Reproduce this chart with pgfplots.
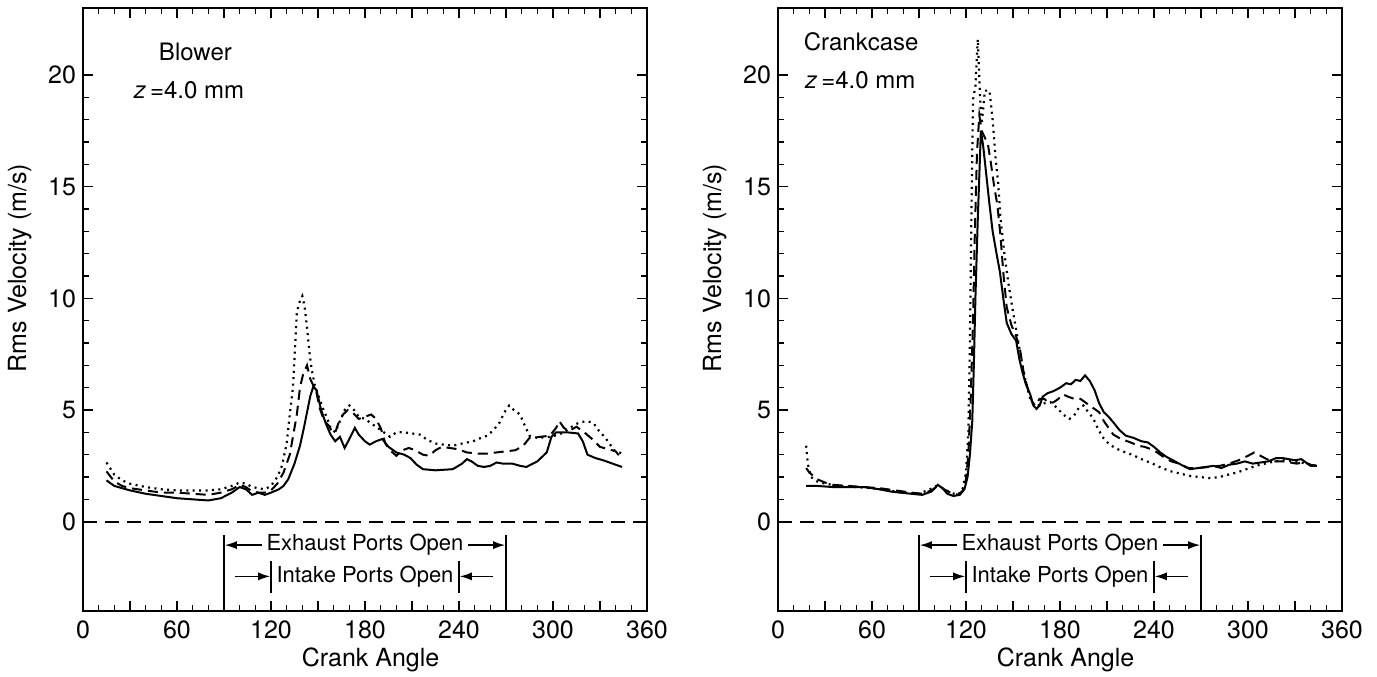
\documentclass[border=0pt]{standalone}
\usepackage{pgfplots}
\pgfplotsset{compat=1.18}
\usepackage{fontspec}
\setmainfont{TeX Gyre Heros}
\usetikzlibrary{arrows.meta}

\pgfplotsset{
  panel/.style={
    width=282pt, height=301.5pt, scale only axis,
    xmin=0, xmax=360, ymin=-4, ymax=23,
    xtick={0,30,...,360},
    xticklabels={0,,60,,120,,180,,240,,300,,360},
    minor x tick num=2,
    ytick={0,5,10,15,20},
    minor y tick num=4,
    tick align=inside,
    major tick length=5pt, minor tick length=3.2pt,
    every tick/.style={line width=0.8pt, black},
    axis line style={line width=1.1pt},
    /pgf/number format/assume math mode=true,
    tick label style={font=\fontsize{12.5}{14}\selectfont},
    label style={font=\fontsize{12.5}{14}\selectfont},
    xlabel={Crank Angle},
    ylabel={Rms Velocity (m/s)},
    xlabel style={at={(axis description cs:0.51,-0.081)}, anchor=center},
    ylabel style={at={(axis description cs:-0.112,0.569)}, anchor=center},
    xticklabel style={yshift=-1.5pt},
    clip=false,
  },
  sol/.style={black, line width=1pt, no marks},
  dsh/.style={black, line width=1pt, no marks, dash pattern=on 5pt off 3pt},
  dot/.style={black, line width=1.1pt, no marks, dash pattern=on 1pt off 2.2pt},
}

\newcommand{\ports}{%
  \draw[dash pattern=on 7pt off 4pt, line width=0.9pt] (axis cs:0,0) -- (axis cs:360,0);
  \draw[line width=0.7pt] (axis cs:90,-0.6) -- (axis cs:90,-4);
  \draw[line width=0.7pt] (axis cs:270,-0.6) -- (axis cs:270,-4);
  \draw[line width=0.7pt] (axis cs:120,-1.75) -- (axis cs:120,-3.2);
  \draw[line width=0.7pt] (axis cs:240,-1.75) -- (axis cs:240,-3.2);
  \node[font=\fontsize{11}{13}\selectfont] at (axis cs:180,-1.05) {Exhaust Ports Open};
  \draw[line width=0.7pt,-{Latex[length=6pt,width=4pt]}] (axis cs:114,-1.05) -- (axis cs:90.5,-1.05);
  \draw[line width=0.7pt,-{Latex[length=6pt,width=4pt]}] (axis cs:246,-1.05) -- (axis cs:269.5,-1.05);
  \node[font=\fontsize{11}{13}\selectfont] at (axis cs:180,-2.45) {Intake Ports Open};
  \draw[line width=0.7pt,-{Latex[length=6pt,width=4pt]}] (axis cs:97,-2.45) -- (axis cs:119.5,-2.45);
  \draw[line width=0.7pt,-{Latex[length=6pt,width=4pt]}] (axis cs:262,-2.45) -- (axis cs:240.5,-2.45);
}

\begin{document}
\begin{tikzpicture}
\useasboundingbox (-41.5pt,-32.5pt) rectangle (647pt,305.5pt);

% ---------------- Blower ----------------
\begin{axis}[panel, at={(0pt,0pt)}, anchor=south west]
\addplot[sol] coordinates {
(15,1.85)(20,1.6)(25,1.5)(30,1.4)(40,1.25)(50,1.15)(60,1.05)(70,1.0)(80,0.95)(88,1.05)
(95,1.3)(100,1.55)(104,1.45)(108,1.2)(112,1.3)(116,1.2)(120,1.3)(125,1.45)(128,1.6)(131,1.9)
(135,2.6)(138.5,3.4)(141,4.2)(143,4.9)(145,5.6)(147,6.05)(149,5.9)(152,5.0)(155,4.4)(158,3.9)
(161,3.6)(164,3.8)(167,3.3)(170,3.7)(173.5,4.2)(176,3.9)(180,3.6)(183,3.45)(187,3.6)(191,3.7)
(195,3.35)(200,3.1)(205,3.0)(209,2.85)(213,2.55)(217,2.35)(225,2.3)(236,2.35)(242,2.6)(245,2.8)
(248,2.7)(252,2.5)(256,2.45)(260,2.5)(264,2.65)(268,2.6)(274,2.6)(279,2.5)(283,2.45)(290,2.7)
(296,3.1)(299,3.8)(302,4.0)(309,4.0)(316,3.95)(319,3.6)(322,3.0)(327,2.85)(332,2.75)(338,2.6)(344,2.45)
};
\addplot[dsh] coordinates {
(15,2.25)(20,1.8)(25,1.6)(30,1.5)(40,1.4)(50,1.3)(60,1.3)(70,1.25)(80,1.2)(88,1.3)
(95,1.45)(100,1.65)(104,1.55)(108,1.35)(112,1.3)(116,1.3)(120,1.4)(124,1.7)(128,2.2)(132,3.0)
(134.5,4.0)(136.5,4.8)(138.5,6.0)(140.5,6.6)(143,7.0)(145,6.4)(147,6.1)(149,5.8)(151,5.1)(154,4.5)
(157,4.3)(159,4.0)(161,4.0)(163,4.4)(166,4.8)(169,5.0)(172,4.9)(176,4.6)(180,4.7)(184,4.8)
(187,4.6)(190,4.2)(193,3.5)(196,3.2)(200,2.95)(204,3.2)(208,3.3)(212,3.2)(217,3.0)(221,2.95)
(225,3.2)(229,3.35)(234,3.3)(239,3.25)(245,3.1)(252,3.05)(258,3.05)(264,3.1)(270,3.15)(276,3.2)
(281,3.4)(285,3.75)(292,3.8)(298,3.85)(302,4.2)(304,4.5)(307,4.2)(310,4.05)(315,4.25)(320,4.0)
(325,3.7)(330,3.35)(335,3.25)(340,3.15)(344,2.8)
};
\addplot[dot] coordinates {
(15,2.65)(20,2.1)(25,1.85)(30,1.7)(40,1.55)(50,1.45)(60,1.4)(70,1.4)(80,1.4)(88,1.45)
(95,1.6)(100,1.75)(104,1.7)(108,1.55)(112,1.5)(116,1.45)(120,1.6)(124,2.0)(127,2.5)(130,3.5)
(132,4.8)(134,6.0)(135.5,8.0)(136.5,9.4)(138.5,9.9)(140,10.1)(141.5,9.6)(143,8.7)(144.5,7.6)(146,6.8)
(148,6.1)(151,5.5)(153,5.1)(156,4.6)(158,4.2)(161,4.0)(164,4.5)(167,5.0)(170,5.2)(173,5.0)
(176,4.7)(180,4.6)(184,4.4)(188,4.2)(192,4.0)(196,3.8)(200,4.0)(205,4.0)(210,3.95)(215,3.9)
(220,3.65)(225,3.5)(230,3.45)(236,3.4)(242,3.5)(249,3.6)(254,3.75)(258,3.85)(262,4.1)(266,4.45)
(269,4.9)(272,5.2)(275,5.0)(279,4.8)(282,4.3)(285,3.85)(290,3.75)(298,3.8)(304,3.9)(309,4.1)
(313,4.3)(317,4.45)(322,4.5)(326,4.4)(330,4.0)(333,3.8)(336,3.5)(339,3.2)(344,3.05)
};
\ports
\node[anchor=base west, font=\fontsize{12}{14}\selectfont] at (axis cs:44,20.64) {Blower};
\node[anchor=base west, font=\fontsize{12}{14}\selectfont] at (axis cs:28,18.95) {\textit{z}\,=4.0 mm};
\end{axis}

% ---------------- Crankcase ----------------
\begin{axis}[panel, at={(347.5pt,0pt)}, anchor=south west]
\addplot[sol] coordinates {
(18,1.6)(25,1.6)(35,1.55)(45,1.55)(55,1.55)(65,1.45)(72,1.35)(78,1.3)(85,1.25)(92,1.2)
(98,1.35)(102,1.65)(105,1.5)(108,1.25)(112,1.15)(116,1.2)(119,1.45)(121,2.0)(122.5,3.0)(124,4.5)
(125,7.0)(126,10.0)(127.5,13.5)(129.5,17.5)(131,16.8)(133,15.5)(135,14.2)(137,13.0)(139.5,12.0)(141.6,11.2)
(144,9.9)(146,8.9)(149,8.4)(152,8.1)(154,7.3)(156,6.7)(158,6.2)(161,5.7)(163,5.2)(165,5.05)
(167,5.2)(169,5.6)(172,5.75)(176,5.85)(180,6.0)(184,6.2)(187,6.15)(190,6.35)(193,6.3)(196,6.55)
(199,6.3)(202,5.9)(205,5.3)(208,4.9)(211,4.7)(214,4.45)(218,4.1)(222,3.85)(227,3.75)(232,3.6)
(236,3.55)(240,3.35)(244,3.1)(248,2.9)(252,2.75)(256,2.6)(260,2.45)(263,2.35)(268,2.4)(273,2.45)
(278,2.5)(283,2.4)(288,2.55)(293,2.6)(298,2.7)(303,2.6)(308,2.65)(313,2.7)(318,2.85)(322,2.85)
(326,2.8)(330,2.75)(334,2.8)(337,2.65)(340,2.5)(344,2.5)
};
\addplot[dsh] coordinates {
(18,2.4)(20,2.2)(25,1.9)(30,1.75)(35,1.65)(45,1.6)(55,1.55)(65,1.5)(75,1.4)(85,1.3)
(92,1.25)(98,1.4)(102,1.6)(106,1.45)(110,1.3)(115,1.2)(118,1.4)(120,1.9)(121.5,3.0)(123,5.5)
(124.5,9.0)(125.5,12.5)(127,16.5)(128.5,18.2)(130,17.5)(132,17.2)(134,16.9)(136,16.0)(138,15.0)(140,14.2)
(142,12.8)(144,11.0)(146,9.6)(149,8.8)(152,8.3)(154.5,7.7)(157,6.6)(160,5.8)(162,5.4)(164,5.2)
(167,5.5)(170,5.5)(173,5.3)(176,5.35)(179,5.5)(182,5.7)(185,5.6)(189,5.5)(193,5.5)(197,5.3)
(201,5.1)(205,4.9)(208,4.5)(211,4.2)(214,3.9)(219,3.7)(225,3.55)(230,3.4)(234,3.35)(238,3.25)
(242,3.1)(246,2.9)(251,2.7)(256,2.6)(262,2.4)(268,2.4)(275,2.45)(282,2.5)(288,2.6)(294,2.75)
(300,2.95)(304,3.1)(308,2.95)(312,2.8)(316,2.7)(322,2.7)(327,2.65)(331,2.6)(336,2.65)(340,2.55)(344,2.5)
};
\addplot[dot] coordinates {
(18,3.4)(19,2.6)(21,2.0)(25,1.8)(30,1.7)(40,1.6)(50,1.55)(60,1.5)(70,1.4)(80,1.3)
(90,1.25)(97,1.45)(101,1.6)(105,1.5)(110,1.3)(115,1.2)(118,1.5)(120,2.2)(121.5,4.0)(122.5,8.0)
(123.5,14.0)(124.5,18.9)(126,19.5)(127.5,21.6)(129,19.0)(130,17.8)(131,18.5)(132,19.3)(135,19.3)(137,18.0)
(139,16.2)(140.5,15.2)(142,13.6)(144.5,12.0)(147,10.7)(150,9.4)(152.5,8.4)(155,7.4)(158,6.3)(161,5.5)
(163,5.25)(166,5.2)(170,5.3)(174,5.35)(178,5.1)(182,4.8)(186,4.6)(189,4.75)(192,5.1)(195,5.2)
(198,4.9)(201,4.65)(204,4.2)(207,3.8)(211,3.5)(215,3.3)(220,3.15)(226,3.0)(232,2.8)(239,2.6)
(245,2.4)(251,2.25)(257,2.15)(263,2.05)(269,2.0)(276,1.95)(282,2.0)(287,2.1)(293,2.2)(299,2.35)
(305,2.5)(311,2.6)(317,2.7)(323,2.75)(330,2.7)(337,2.6)(344,2.5)
};
\ports
\node[anchor=base west, font=\fontsize{12}{14}\selectfont] at (axis cs:12,21.1) {Crankcase};
\node[anchor=base west, font=\fontsize{12}{14}\selectfont] at (axis cs:12.8,19.4) {\textit{z}\,=4.0 mm};
\end{axis}
\end{tikzpicture}
\end{document}
